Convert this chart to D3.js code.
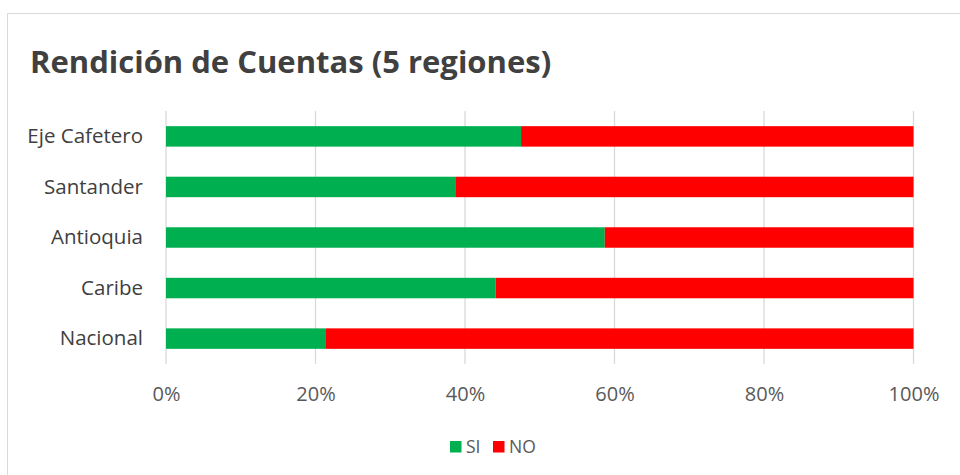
<!DOCTYPE html>
<html>
<head>
<meta charset="utf-8">
<script src="https://cdn.jsdelivr.net/npm/d3@7"></script>
<style>
  html, body { margin: 0; padding: 0; background: #fff; }
  svg { display: block; }
</style>
</head>
<body>
<svg id="chart" width="960" height="475"></svg>
<script>
const categories = ["Eje Cafetero", "Santander", "Antioquia", "Caribe", "Nacional"];
const siValues = [47.5, 38.7, 58.7, 44.1, 21.4];
const noValues = [52.5, 61.3, 41.3, 55.9, 78.6];
const seriesNames = ["SI", "NO"];
const seriesColors = ["#00b050", "#ff0000"];
const tickValues = [0, 20, 40, 60, 80, 100];
const titleText = "Rendición de Cuentas (5 regiones)";

const FONT = "'Open Sans', sans-serif";
const svg = d3.select("#chart");
const W = 960, H = 475;
const margin = { left: 166, right: W - 913.5, top: 111, bottom: H - 364 };

svg.append("rect").attr("x", 7.5).attr("y", 13.5).attr("width", 960).attr("height", 480)
  .attr("fill", "#fff").attr("stroke", "#d9d9d9").attr("stroke-width", 1);

svg.append("text").attr("x", 30).attr("y", 72.5)
  .attr("font-family", FONT).attr("font-weight", "bold").attr("font-size", 31)
  .attr("fill", "#404040").text(titleText);

const x = d3.scaleLinear().domain([0, 100]).range([margin.left, W - margin.right]);
const y = d3.scaleBand().domain(categories).range([margin.top, H - margin.bottom])
  .paddingInner(0.595).paddingOuter(0.3);

// gridlines
svg.append("g").selectAll("line").data(tickValues).join("line")
  .attr("x1", d => x(d)).attr("x2", d => x(d))
  .attr("y1", margin.top).attr("y2", H - margin.bottom)
  .attr("stroke", "#d9d9d9").attr("stroke-width", 1.3);

const rows = categories.map((c, i) => ({ cat: c, vals: [siValues[i], noValues[i]] }));
const stack = d3.stack().keys([0, 1]).value((d, k) => d.vals[k]);
const layers = stack(rows);

svg.append("g").selectAll("g").data(layers).join("g")
  .attr("fill", (d, i) => seriesColors[i])
  .selectAll("rect").data(d => d).join("rect")
  .attr("x", d => x(d[0])).attr("width", d => x(d[1]) - x(d[0]))
  .attr("y", d => y(d.data.cat)).attr("height", y.bandwidth());

// x axis labels
const xAxis = d3.axisBottom(x).tickValues(tickValues).tickSize(0).tickPadding(0)
  .tickFormat(d => d + "%");
const gx = svg.append("g").attr("transform", `translate(0,${H - margin.bottom + 23})`).call(xAxis);
gx.select(".domain").remove();
gx.selectAll("text").attr("font-family", FONT).attr("font-size", 20).attr("fill", "#595959");

// y axis labels
const yAxis = d3.axisLeft(y).tickSize(0).tickPadding(0);
const gy = svg.append("g").attr("transform", `translate(143,0)`).call(yAxis);
gy.select(".domain").remove();
gy.selectAll("text").attr("font-family", FONT).attr("font-size", 20.5).attr("fill", "#404040");

// legend
const legendX = [450, 493];
const lg = svg.append("g");
seriesNames.forEach((n, i) => {
  lg.append("rect").attr("x", legendX[i]).attr("y", 441).attr("width", 11.5).attr("height", 11.5)
    .attr("fill", seriesColors[i]);
  lg.append("text").attr("x", legendX[i] + 16).attr("y", 453.3)
    .attr("font-family", FONT).attr("font-size", 17.5).attr("fill", "#595959").text(n);
});
</script>
</body>
</html>
